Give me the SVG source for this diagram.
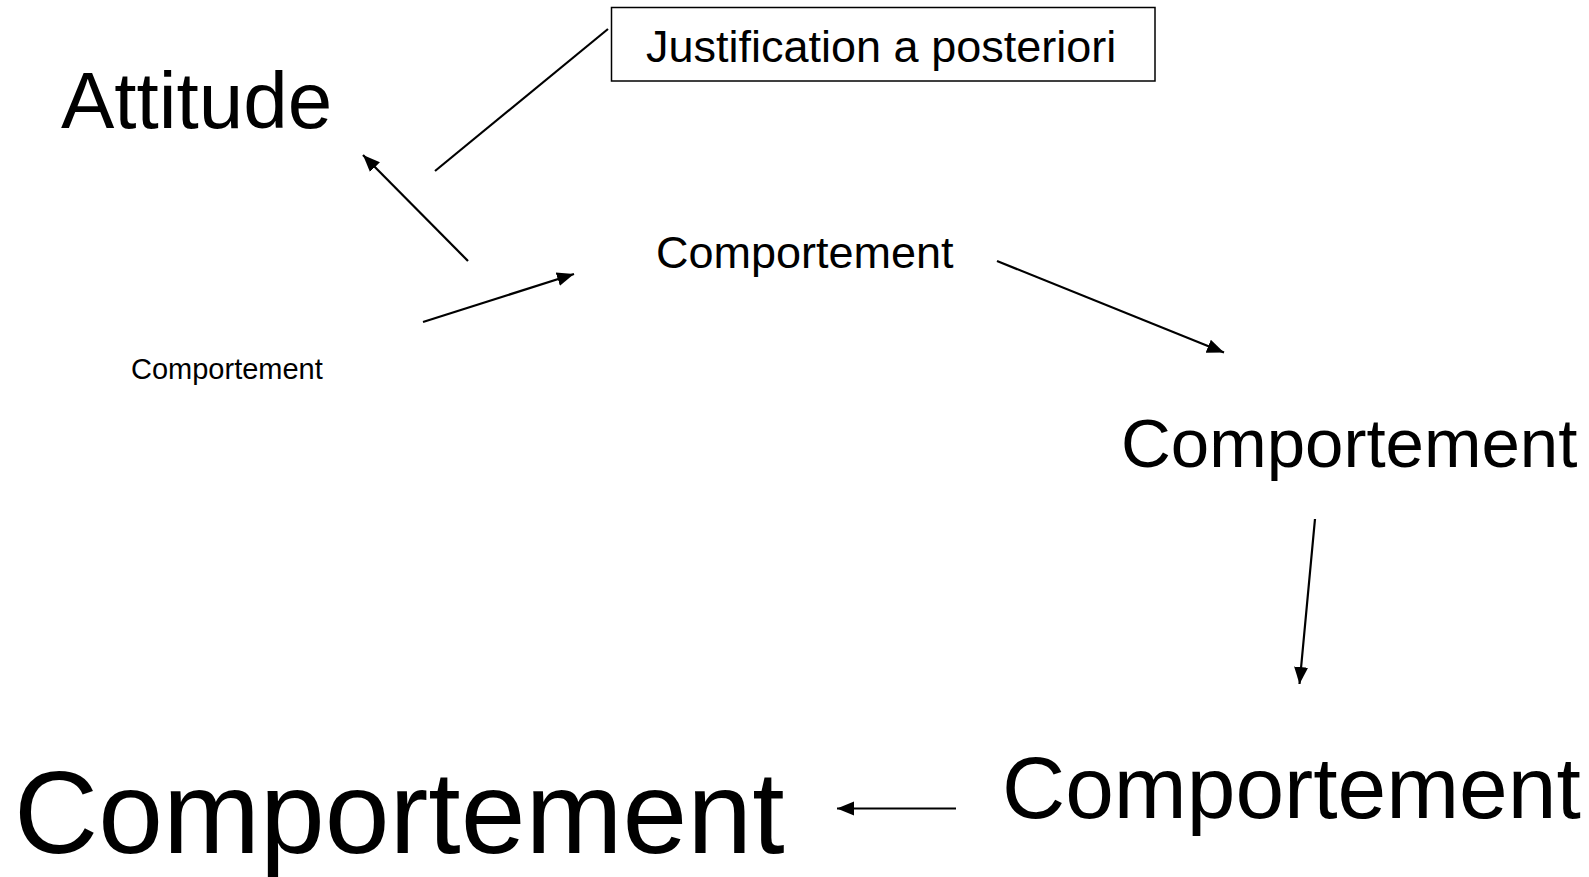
<svg xmlns="http://www.w3.org/2000/svg" width="1589" height="877" viewBox="0 0 1589 877">
<style>
text{font-family:"Liberation Sans",Arial,Helvetica,sans-serif;fill:#000}
.c{stroke:#000;stroke-width:2.2;fill:none}
.box{fill:#fff;stroke:#000;stroke-width:1.5}
</style>
<defs>
<marker id="ah" markerUnits="userSpaceOnUse" markerWidth="18" markerHeight="16" refX="17" refY="7" orient="auto" viewBox="0 0 18 14">
<path d="M0,0 L17,7 L0,14 Z" fill="#000"/>
</marker>
</defs>
<rect width="1589" height="877" fill="#fff"/>
<g id="connectors">
<line class="c" x1="608" y1="29" x2="435" y2="171"/>
<line class="c" x1="468" y1="261" x2="363" y2="155" marker-end="url(#ah)"/>
<line class="c" x1="423" y1="322" x2="574" y2="274" marker-end="url(#ah)"/>
<line class="c" x1="997" y1="261" x2="1224" y2="352.5" marker-end="url(#ah)"/>
<line class="c" x1="1315" y1="519" x2="1299.5" y2="684" marker-end="url(#ah)"/>
<line class="c" x1="956" y1="808.5" x2="837" y2="808.5" marker-end="url(#ah)"/>
</g>
<g id="attitude"><text x="61" y="128" font-size="80">Attitude</text></g>
<g id="justification">
<rect class="box" x="611.5" y="7.5" width="543.5" height="73.5"/>
<text x="646" y="61.5" font-size="45">Justification a posteriori</text>
</g>
<g id="comp-small"><text x="131" y="379" font-size="29">Comportement</text></g>
<g id="comp-mid"><text x="656" y="268" font-size="45">Comportement</text></g>
<g id="comp-right"><text x="1121" y="467" font-size="69">Comportement</text></g>
<g id="comp-bottom-right"><text x="1002" y="818" font-size="87.5">Comportement</text></g>
<g id="comp-bottom-left"><text x="14" y="853" font-size="116.5">Comportement</text></g>
</svg>
